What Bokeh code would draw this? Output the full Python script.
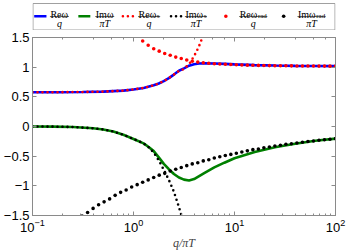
import numpy as np
from bokeh.plotting import figure
from bokeh.layouts import column
from bokeh.models import (Range1d, LogAxis, LinearAxis, FixedTicker,
                          CustomJSTickFormatter, LogTicker)
from bokeh.core.properties import value
from bokeh.embed import file_html
from bokeh.resources import INLINE

# ---------------- data ----------------
# Re(omega)/q  (blue solid)
logq_re = [-1.0, -0.75, -0.5, -0.3, -0.1, 0.0, 0.1, 0.2, 0.25, 0.3, 0.35, 0.4,
           0.45, 0.5, 0.55, 0.6, 0.65, 0.7, 0.8, 0.9, 1.0, 1.2, 1.4, 1.6, 1.8, 2.0]
re_omega = [0.577, 0.578, 0.582, 0.588, 0.605, 0.625, 0.65, 0.695, 0.725, 0.765,
            0.815, 0.875, 0.94, 0.98, 1.025, 1.05, 1.062, 1.067, 1.063, 1.055,
            1.047, 1.035, 1.027, 1.022, 1.019, 1.017]

# Im(omega)/(pi T)  (green solid)
logq_im = [-1.0, -0.8, -0.6, -0.4, -0.3, -0.2, -0.1, 0.0, 0.1, 0.15, 0.2, 0.25,
           0.3, 0.35, 0.4, 0.45, 0.5, 0.55, 0.6, 0.65, 0.7, 0.8, 0.9, 1.0, 1.2,
           1.4, 1.6, 1.8, 2.0]
im_omega = [0.0, -0.002, -0.008, -0.03, -0.05, -0.085, -0.14, -0.21, -0.285,
            -0.345, -0.415, -0.52, -0.63, -0.72, -0.80, -0.86, -0.895, -0.91,
            -0.885, -0.835, -0.785, -0.69, -0.61, -0.535, -0.43, -0.35, -0.29,
            -0.24, -0.205]

# Re(omega_s)/q  (red dotted)
logq_res = [-1.0, -0.75, -0.5, -0.3, -0.1, 0.0, 0.1, 0.2, 0.25, 0.3, 0.35, 0.4,
            0.45, 0.5, 0.53, 0.56, 0.59, 0.62, 0.65, 0.68, 0.71]
re_s = [0.577, 0.578, 0.582, 0.588, 0.605, 0.625, 0.65, 0.695, 0.725, 0.765,
        0.815, 0.875, 0.935, 0.97, 1.02, 1.075, 1.16, 1.25, 1.36, 1.49, 1.62]

# Im(omega_s)/(pi T)  (black dotted)
logq_ims = [-1.0, -0.8, -0.6, -0.4, -0.3, -0.2, -0.1, 0.0, 0.1, 0.15, 0.2, 0.25,
            0.3, 0.35, 0.4, 0.45, 0.48, 0.51]
im_s = [0.0, -0.002, -0.008, -0.03, -0.05, -0.085, -0.14, -0.21, -0.285, -0.35,
        -0.44, -0.57, -0.73, -0.90, -1.10, -1.36, -1.53, -1.72]

# sampling grid of the large-q ("rad") points
q_grid = np.logspace(-1, 2, 56)

# Re(omega_rad)/q  (red points), grid points 19..55
re_rad = [1.52, 1.44, 1.37, 1.31, 1.27, 1.23, 1.20, 1.17, 1.145, 1.12, 1.10,
          1.085, 1.075, 1.065, 1.058, 1.053, 1.048, 1.044, 1.040, 1.037, 1.034,
          1.032, 1.030, 1.028, 1.026, 1.025, 1.024, 1.023, 1.022, 1.021, 1.020,
          1.019, 1.019, 1.018, 1.018, 1.017, 1.017]
# Im(omega_rad)/(pi T)  (black points), grid points 9..55
im_rad = [-1.51, -1.45, -1.38, -1.32, -1.27, -1.22, -1.16, -1.11, -1.07, -1.02,
          -0.98, -0.94, -0.90, -0.86, -0.82, -0.79, -0.75, -0.72, -0.69, -0.66,
          -0.63, -0.61, -0.58, -0.56, -0.53, -0.51, -0.49, -0.47, -0.45, -0.43,
          -0.41, -0.39, -0.38, -0.36, -0.345, -0.33, -0.316, -0.30, -0.29,
          -0.277, -0.265, -0.254, -0.244, -0.233, -0.223, -0.214, -0.205]

y_ticks = [-1.5, -1, -0.5, 0, 0.5, 1, 1.5]

# legend texts
leg_num = ["Reω", "Imω", "Reω", "Imω", "Reω", "Imω"]
leg_sub = ["", "", "s", "s", "rad", "rad"]
leg_den = ["q", "πT", "q", "πT", "q", "πT"]
leg_color = ["#0000ff", "#008000", "#ff0000", "#000000", "#ff0000", "#000000"]
leg_kind = ["line", "line", "dots", "dots", "point", "point"]

# ---------------- layout constants ----------------
W = 347
LEG_H = 30
MAIN_H = 222
BL, BR = 31, 12          # left / right borders (frame 31..335)
FW = W - BL - BR         # frame width
SERIF = "Liberation Serif"
SANS = "Liberation Sans"
GRAY = "#8a8a8a"

# ---------------- legend strip (1 data unit = 1 px) ----------------
leg = figure(width=W, height=LEG_H, x_range=Range1d(0, FW), y_range=Range1d(0, LEG_H),
             x_axis_location=None, y_axis_location=None, toolbar_location=None,
             output_backend="svg", min_border=0, min_border_left=BL,
             min_border_right=BR, outline_line_color=None)
leg.grid.visible = False
leg.quad(left=[0.5], right=[FW - 0.5], bottom=[0.5], top=[27], fill_color="white",
         line_color="#a0a0a0", line_width=1)

samp_x0 = [1.7, 46, 90.7, 139, 0, 0]
samp_x1 = [14, 58, 102, 151, 0, 0]
samp_pt = [0, 0, 0, 0, 194, 252]
text_cx = [27, 72.5, 117, 164, 221.5, 280]
num_w = 18.0
sub_w = {"": 0.0, "s": 3.2, "rad": 9.3}
Y_LINE = 14.3
Y_BAR = 14.0

nx, ny, nt = [], [], []
sx, sy, st = [], [], []
dx, dy, dt = [], [], []
bx0, bx1 = [], []
for i in range(6):
    cx = text_cx[i]
    tot = num_w + sub_w[leg_sub[i]]
    left = cx - tot / 2
    nx.append(left); ny.append(16.5); nt.append(leg_num[i])
    if leg_sub[i]:
        sx.append(left + num_w + 0.3); sy.append(14.8); st.append(leg_sub[i])
    dx.append(cx); dy.append(12.2); dt.append(leg_den[i])
    bx0.append(left - 0.5); bx1.append(left + tot + 0.5)
    if leg_kind[i] == "line":
        leg.line([samp_x0[i], samp_x1[i]], [Y_LINE, Y_LINE],
                 line_color=leg_color[i], line_width=2.5)
    elif leg_kind[i] == "dots":
        leg.line([samp_x0[i], samp_x1[i]], [Y_LINE, Y_LINE],
                 line_color=leg_color[i], line_width=2.6, line_cap="round",
                 line_dash="0 5")
    else:
        leg.scatter([samp_pt[i]], [Y_LINE], size=3.6, marker="circle",
                    fill_color=leg_color[i], line_color=None)

leg.segment(x0=bx0, x1=bx1, y0=[Y_BAR] * 6, y1=[Y_BAR] * 6, line_color="black",
            line_width=0.6)
leg.text(x=nx, y=ny, text=nt, text_font=value(SERIF), text_font_size="10px",
         text_align="left", text_baseline="alphabetic", text_color="black")
leg.text(x=sx, y=sy, text=st, text_font=value(SERIF), text_font_size="7px",
         text_align="left", text_baseline="alphabetic", text_color="black")
leg.text(x=dx, y=dy, text=dt, text_font=value(SERIF), text_font_size="10px",
         text_font_style="italic", text_align="center", text_baseline="top",
         text_color="black")

# ---------------- main plot ----------------
p = figure(width=W, height=MAIN_H, x_axis_type="log",
           x_range=Range1d(0.1, 100), y_range=Range1d(-1.5, 1.5),
           toolbar_location=None, output_backend="svg",
           min_border_left=BL, min_border_right=BR, min_border_top=7,
           min_border_bottom=35)
p.grid.visible = False
p.outline_line_color = GRAY
p.background_fill_color = "white"

def q(lg):
    return [10 ** v for v in lg]

p.line(q(logq_re), re_omega, line_color="#0000ff", line_width=2.6)
p.line(q(logq_im), im_omega, line_color="#008000", line_width=2.6)
p.line(q(logq_res), re_s, line_color="#ff0000", line_width=2.6,
       line_cap="round", line_dash="0 5")
p.line(q(logq_ims), im_s, line_color="#000000", line_width=2.6,
       line_cap="round", line_dash="0 5")
p.scatter(q_grid[19:], re_rad, size=3.6, marker="circle", fill_color="#ff0000",
          line_color=None)
p.scatter(q_grid[9:], im_rad, size=3.6, marker="circle", fill_color="#000000",
          line_color=None)

xb = p.below[0]
yl = p.left[0]
yl.ticker = FixedTicker(ticks=y_ticks, minor_ticks=[])
yl.formatter = CustomJSTickFormatter(
    code="return (tick < 0 ? '\u2212' : '') + String(Math.abs(tick));")
for ax in (xb, yl):
    ax.axis_line_color = GRAY
    ax.major_tick_line_color = GRAY
    ax.minor_tick_line_color = GRAY
    ax.major_tick_in = 4
    ax.major_tick_out = 0
    ax.minor_tick_in = 2
    ax.minor_tick_out = 0
    ax.major_label_text_font = SANS
    ax.major_label_text_font_size = "13px"
    ax.major_label_text_color = "black"
    ax.major_label_standoff = 3
xb.axis_label = "q/πT"
xb.axis_label_text_font = SERIF
xb.axis_label_text_font_style = "italic"
xb.axis_label_text_font_size = "12px"
xb.axis_label_standoff = 1

top = LogAxis(ticker=LogTicker(), axis_line_color=GRAY, major_tick_line_color=GRAY,
              minor_tick_line_color=GRAY, major_tick_in=4, major_tick_out=0,
              minor_tick_in=2, minor_tick_out=0, major_label_text_font_size="1px",
              major_label_text_alpha=0, major_label_standoff=0)
right = LinearAxis(ticker=FixedTicker(ticks=y_ticks, minor_ticks=[]),
                   axis_line_color=GRAY, major_tick_line_color=GRAY,
                   major_tick_in=4, major_tick_out=0,
                   major_label_text_font_size="1px", major_label_text_alpha=0,
                   major_label_standoff=0)
p.add_layout(top, "above")
p.add_layout(right, "right")

layout = column(leg, p, spacing=0)
open("out.html", "w").write(file_html(layout, INLINE))
